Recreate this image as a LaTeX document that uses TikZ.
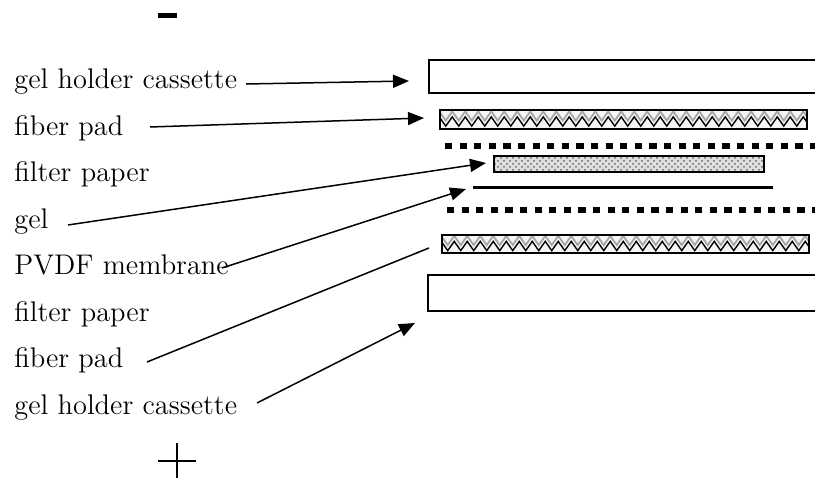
\documentclass[tikz,border=0pt]{standalone}
\usetikzlibrary{arrows.meta,decorations.pathmorphing,patterns}
\begin{document}
\begin{tikzpicture}[x=0.5pt,y=-0.5pt,
  lbl/.style={anchor=base west,inner sep=0pt,font=\fontsize{14.2}{17}\selectfont},
  conn/.style={line width=0.75pt},
  arr/.style={conn,-{Triangle[length=8pt,width=6.5pt]}},
  frame/.style={line width=0.9pt},
  padline/.style={decorate,decoration={zigzag,segment length=6.5pt,amplitude=2.3pt}},
  dotrow/.style={line width=3.3pt,dash pattern=on 3.6pt off 3.7pt}]
\useasboundingbox (0,0) rectangle (815,485);

% polarity signs
\fill (158,13) rectangle (177,18);
\draw[line width=1pt] (158,461) -- (196,461);
\draw[line width=1pt] (177,443) -- (177,478);

% labels
\node[lbl] (l1) at (14,89) {gel holder cassette};
\node[lbl] (l2) at (14,135.5) {fiber pad};
\node[lbl] (l3) at (14,182) {filter paper};
\node[lbl] (l4) at (14,228.5) {gel};
\node[lbl] (l5) at (14,275) {PVDF membrane};
\node[lbl] (l6) at (14,321.5) {filter paper};
\node[lbl] (l7) at (14,368) {fiber pad};
\node[lbl] (l8) at (14,414.5) {gel holder cassette};

% upper cassette (open to the right)
\draw[frame] (830,60) -- (429,60) -- (429,93) -- (830,93);

% upper fiber pad
\begin{scope}
  \clip (440,110) rectangle (807,129);
  \fill[gray!8] (440,110) rectangle (807,129);
  \draw[gray!70,line width=0.9pt,padline] (436,116) -- (812,116);
  \draw[black,line width=0.7pt,padline] (436,121.5) -- (812,121.5);
\end{scope}
\draw[frame] (440,110) rectangle (807,129);

% upper filter paper
\draw[dotrow] (445,146) -- (815,146);

% gel
\fill[gray!25] (494,156) rectangle (764,172);
\fill[pattern=crosshatch dots,pattern color=gray!80!black] (494,156) rectangle (764,172);
\draw[frame] (494,156) rectangle (764,172);

% PVDF membrane
\draw[line width=1.5pt] (473,188) -- (773,188);

% lower filter paper
\draw[dotrow] (447,210) -- (815,210);

% lower fiber pad
\begin{scope}
  \clip (442,235) rectangle (809,253);
  \fill[gray!8] (442,235) rectangle (809,253);
  \draw[gray!70,line width=0.9pt,padline] (438,240.5) -- (814,240.5);
  \draw[black,line width=0.7pt,padline] (438,246) -- (814,246);
\end{scope}
\draw[frame] (442,235) rectangle (809,253);

% lower cassette (open to the right)
\draw[frame] (830,275) -- (428,275) -- (428,311) -- (830,311);

% connector ends
\coordinate (s1) at (246,84);   \coordinate (t1) at (409,81);
\coordinate (s2) at (150,127);  \coordinate (t2) at (424,118);
\coordinate (s4) at (68,225);   \coordinate (t4) at (486,163);
\coordinate (s5) at (222,268);  \coordinate (t5) at (466,189);
\coordinate (s7) at (147,362);  \coordinate (t7) at (429,248);
\coordinate (s8) at (257,403);  \coordinate (t8) at (415,323);

\draw[arr] (s1) -- (t1);
\draw[arr] (s2) -- (t2);
\draw[arr] (s4) -- (t4);
\draw[arr] (s5) -- (t5);
\draw[conn] (s7) -- (t7);
\draw[arr] (s8) -- (t8);
\end{tikzpicture}
\end{document}
